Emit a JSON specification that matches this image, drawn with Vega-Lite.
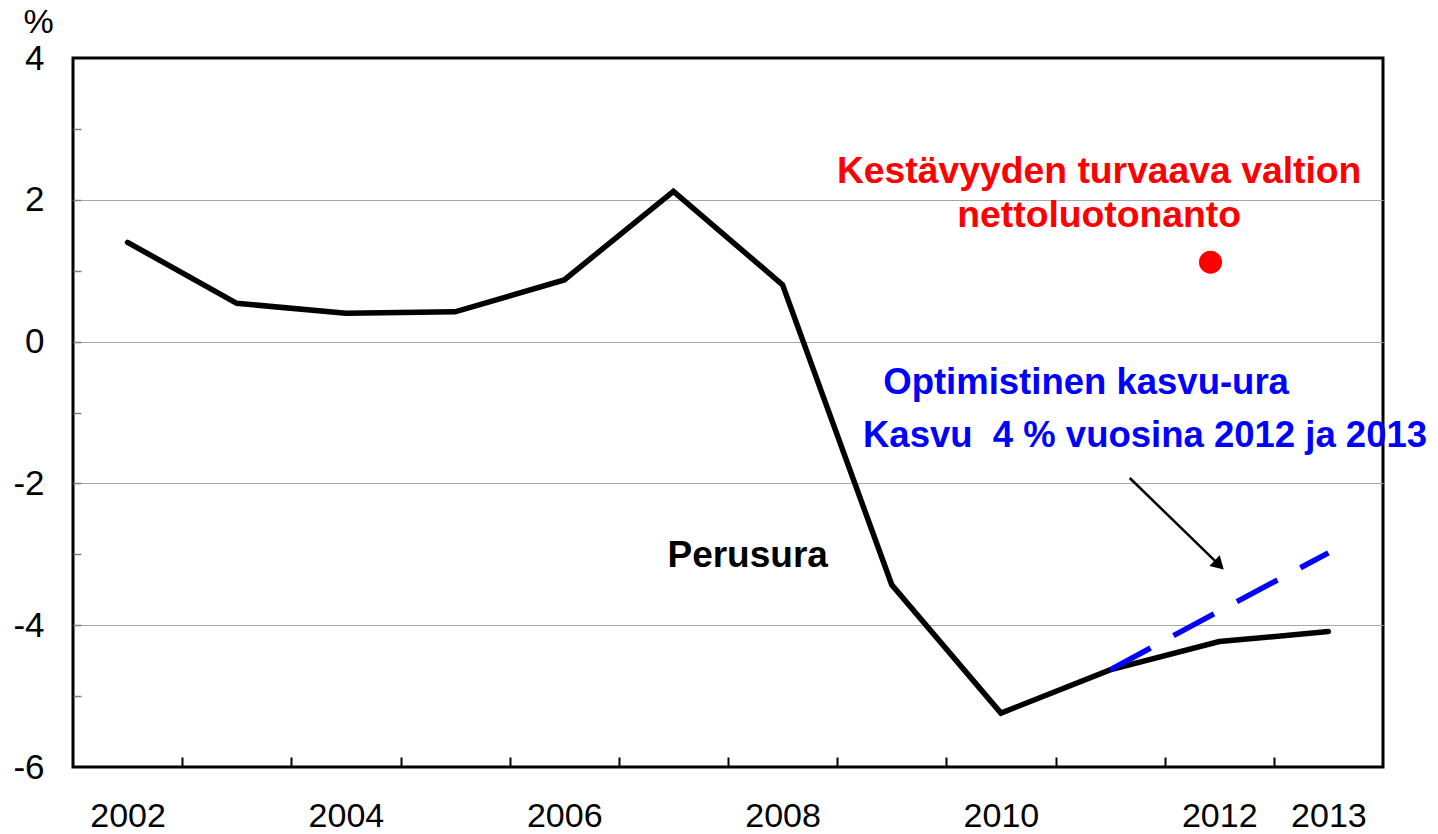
{
  "$schema": "https://vega.github.io/schema/vega-lite/v6.json",
  "width": 1310,
  "height": 709,
  "autosize": {"type": "none"},
  "padding": {"left": 73, "top": 58, "right": 55, "bottom": 67},
  "background": "white",
  "config": {
    "font": "Liberation Sans",
    "view": {"stroke": "black", "strokeWidth": 3}
  },
  "resolve": {"axis": {"x": "independent", "y": "independent"}},
  "layer": [
    {
      "data": {"values": [
        {"year": 2002, "value": 1.40},
        {"year": 2003, "value": 0.54},
        {"year": 2004, "value": 0.40},
        {"year": 2005, "value": 0.42},
        {"year": 2006, "value": 0.87},
        {"year": 2007, "value": 2.12},
        {"year": 2008, "value": 0.80},
        {"year": 2009, "value": -3.43},
        {"year": 2010, "value": -5.24},
        {"year": 2011, "value": -4.63},
        {"year": 2012, "value": -4.23},
        {"year": 2013, "value": -4.09}
      ]},
      "mark": {"type": "line", "color": "black", "strokeWidth": 5.5, "strokeCap": "round", "strokeJoin": "miter"},
      "encoding": {
        "x": {
          "field": "year", "type": "quantitative",
          "scale": {"domain": [2001.5, 2013.5], "nice": false, "zero": false},
          "axis": {
            "orient": "bottom", "values": [2002, 2004, 2006, 2008, 2010, 2012, 2013],
            "format": "d", "ticks": false, "domain": false, "grid": false,
            "labelFontSize": 34, "labelPadding": 32, "labelColor": "black",
            "labelFlush": false, "labelOverlap": false, "title": null
          }
        },
        "y": {
          "field": "value", "type": "quantitative",
          "scale": {"domain": [-6, 4], "nice": false, "zero": false},
          "axis": {
            "orient": "left", "values": [-6, -4, -2, 0, 2, 4],
            "labelExpr": "datum.value < 0 ? '-' + abs(datum.value) : '' + datum.value",
            "ticks": false, "domain": false, "grid": true,
            "gridColor": "#a6a6a6", "gridWidth": 1,
            "gridOpacity": {"condition": {"test": "datum.value == 4 || datum.value == -6", "value": 0}, "value": 1},
            "labelFontSize": 35, "labelPadding": 29, "labelColor": "black",
            "labelFlush": false, "labelOverlap": false,
            "title": "%", "titleAngle": 0, "titleFontSize": 34, "titleFontWeight": "normal",
            "titleAlign": "center", "titleBaseline": "middle", "titleX": -35, "titleY": -36, "titleColor": "black"
          }
        }
      }
    },
    {
      "data": {"values": [
        {"year": 2011, "value": -4.63},
        {"year": 2012, "value": -3.80},
        {"year": 2013, "value": -2.98}
      ]},
      "mark": {"type": "line", "color": "#0000ff", "strokeWidth": 5.5, "strokeDash": [46, 26]},
      "encoding": {
        "x": {
          "field": "year", "type": "quantitative",
          "axis": {
            "orient": "bottom", "values": [2002.5, 2003.5, 2004.5, 2005.5, 2006.5, 2007.5, 2008.5, 2009.5, 2010.5, 2011.5, 2012.5],
            "labels": false, "domain": false, "grid": false,
            "tickSize": -10, "tickColor": "black", "tickWidth": 2, "title": null
          }
        },
        "y": {
          "field": "value", "type": "quantitative",
          "axis": {
            "orient": "left", "values": [-5, -4, -3, -2, -1, 0, 1, 2, 3],
            "labels": false, "domain": false, "grid": false,
            "tickSize": -8, "tickColor": "#808080", "tickWidth": 1.5, "title": null
          }
        }
      }
    },
    {
      "data": {"values": [{"year": 2011.92, "value": 1.12}]},
      "mark": {"type": "circle", "color": "#ff0000", "size": 530, "opacity": 1},
      "encoding": {
        "x": {"field": "year", "type": "quantitative", "axis": null},
        "y": {"field": "value", "type": "quantitative", "axis": null}
      }
    },
    {
      "data": {"values": [{"year": 2011.18, "value": -1.924, "year2": 2011.98, "value2": -3.12}]},
      "mark": {"type": "rule", "color": "black", "strokeWidth": 2.5},
      "encoding": {
        "x": {"field": "year", "type": "quantitative", "axis": null},
        "y": {"field": "value", "type": "quantitative", "axis": null},
        "x2": {"field": "year2"},
        "y2": {"field": "value2"}
      }
    },
    {
      "data": {"values": [{"year": 2011.985, "value": -3.13}]},
      "mark": {"type": "point", "shape": "triangle", "angle": 134, "filled": true, "color": "black", "size": 220, "opacity": 1},
      "encoding": {
        "x": {"field": "year", "type": "quantitative", "axis": null},
        "y": {"field": "value", "type": "quantitative", "axis": null}
      }
    },
    {
      "data": {"values": [
        {"year": 2010.90, "value": 2.39, "label": "Kestävyyden turvaava valtion"},
        {"year": 2010.90, "value": 1.77, "label": "nettoluotonanto"}
      ]},
      "mark": {"type": "text", "color": "#ff0000", "fontSize": 37.3, "fontWeight": "bold", "align": "center", "baseline": "middle"},
      "encoding": {
        "x": {"field": "year", "type": "quantitative", "axis": null},
        "y": {"field": "value", "type": "quantitative", "axis": null},
        "text": {"field": "label"}
      }
    },
    {
      "data": {"values": [
        {"year": 2010.78, "value": -0.584, "label": "Optimistinen kasvu-ura"},
        {"year": 2011.32, "value": -1.331, "label": "Kasvu\u00a0 4 % vuosina 2012 ja 2013"}
      ]},
      "mark": {"type": "text", "color": "#0000ff", "fontSize": 36.5, "fontWeight": "bold", "align": "center", "baseline": "middle"},
      "encoding": {
        "x": {"field": "year", "type": "quantitative", "axis": null},
        "y": {"field": "value", "type": "quantitative", "axis": null},
        "text": {"field": "label"}
      }
    },
    {
      "data": {"values": [{"year": 2007.68, "value": -3.024, "label": "Perusura"}]},
      "mark": {"type": "text", "color": "black", "fontSize": 37, "fontWeight": "bold", "align": "center", "baseline": "middle"},
      "encoding": {
        "x": {"field": "year", "type": "quantitative", "axis": null},
        "y": {"field": "value", "type": "quantitative", "axis": null},
        "text": {"field": "label"}
      }
    }
  ]
}
